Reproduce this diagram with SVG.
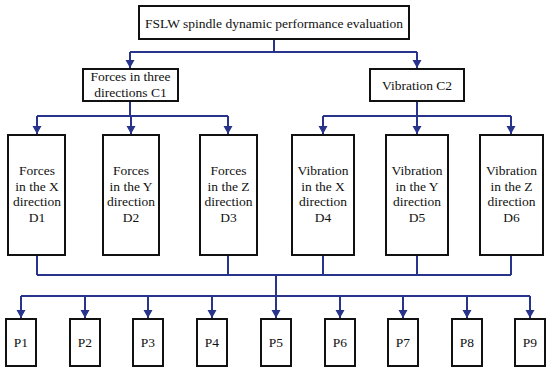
<svg xmlns="http://www.w3.org/2000/svg" width="550" height="369" viewBox="0 0 550 369">
<style>
.box{fill:#fff;stroke:#111;stroke-width:2}
.t{font-family:"Liberation Serif",serif;font-size:13.5px;fill:#111;text-anchor:middle}
.c{fill:none;stroke:#28348c;stroke-width:2}
</style>
<defs>
<marker id="ah" markerUnits="userSpaceOnUse" markerWidth="10" markerHeight="10" refX="8" refY="4.5" orient="auto">
<path d="M0,0 L8,4.5 L0,9 Z" fill="#28348c"/>
</marker>
</defs>
<rect width="550" height="369" fill="#fff"/>
<g id="connectors">
<path class="c" d="M274,39 V52 M130,52 H417"/>
<path class="c" d="M130,52 V68" marker-end="url(#ah)"/>
<path class="c" d="M417,52 V68" marker-end="url(#ah)"/>
<path class="c" d="M130,101 V116 M37,116 H228 M417,101 V116 M323,116 H511"/>
<path class="c" d="M37,116 V134" marker-end="url(#ah)"/>
<path class="c" d="M131,116 V134" marker-end="url(#ah)"/>
<path class="c" d="M228,116 V134" marker-end="url(#ah)"/>
<path class="c" d="M323,116 V134" marker-end="url(#ah)"/>
<path class="c" d="M417,116 V134" marker-end="url(#ah)"/>
<path class="c" d="M511,116 V134" marker-end="url(#ah)"/>
<path class="c" d="M37,255 V275 M228,255 V275 M323,255 V275 M417,255 V275 M511,255 V275 M37,275 H511 M276,275 V296 M21,296 H530"/>
<path class="c" d="M21,296 V318" marker-end="url(#ah)"/>
<path class="c" d="M85,296 V318" marker-end="url(#ah)"/>
<path class="c" d="M148,296 V318" marker-end="url(#ah)"/>
<path class="c" d="M212,296 V318" marker-end="url(#ah)"/>
<path class="c" d="M276,296 V318" marker-end="url(#ah)"/>
<path class="c" d="M340,296 V318" marker-end="url(#ah)"/>
<path class="c" d="M403,296 V318" marker-end="url(#ah)"/>
<path class="c" d="M467,296 V318" marker-end="url(#ah)"/>
<path class="c" d="M530,296 V318" marker-end="url(#ah)"/>
</g>
<g id="A"><rect class="box" x="139" y="6" width="270" height="33"/><text class="t" x="274" y="28">FSLW spindle dynamic performance evaluation</text></g>
<g id="C1"><rect class="box" x="83" y="69" width="95" height="32"/><text class="t" x="130.5" y="81">Forces in three</text><text class="t" x="130.5" y="97">directions C1</text></g>
<g id="C2"><rect class="box" x="370" y="69" width="94" height="32"/><text class="t" x="417" y="90">Vibration C2</text></g>
<g id="D1"><rect class="box" x="8" y="135" width="57" height="120"/><text class="t" x="37"><tspan x="37" y="175">Forces</tspan><tspan x="37" y="191">in the X</tspan><tspan x="37" y="206">direction</tspan><tspan x="37" y="222">D1</tspan></text></g>
<g id="D2"><rect class="box" x="103" y="135" width="56" height="120"/><text class="t"><tspan x="131" y="175">Forces</tspan><tspan x="131" y="191">in the Y</tspan><tspan x="131" y="206">direction</tspan><tspan x="131" y="222">D2</tspan></text></g>
<g id="D3"><rect class="box" x="200" y="135" width="57" height="120"/><text class="t"><tspan x="228.5" y="175">Forces</tspan><tspan x="228.5" y="191">in the Z</tspan><tspan x="228.5" y="206">direction</tspan><tspan x="228.5" y="222">D3</tspan></text></g>
<g id="D4"><rect class="box" x="292" y="135" width="62" height="120"/><text class="t"><tspan x="323" y="175">Vibration</tspan><tspan x="323" y="191">in the X</tspan><tspan x="323" y="206">direction</tspan><tspan x="323" y="222">D4</tspan></text></g>
<g id="D5"><rect class="box" x="386" y="135" width="62" height="120"/><text class="t"><tspan x="417" y="175">Vibration</tspan><tspan x="417" y="191">in the Y</tspan><tspan x="417" y="206">direction</tspan><tspan x="417" y="222">D5</tspan></text></g>
<g id="D6"><rect class="box" x="480" y="135" width="63" height="120"/><text class="t"><tspan x="511.5" y="175">Vibration</tspan><tspan x="511.5" y="191">in the Z</tspan><tspan x="511.5" y="206">direction</tspan><tspan x="511.5" y="222">D6</tspan></text></g>
<g id="P1"><rect class="box" x="6" y="319" width="30" height="47"/><text class="t" x="21" y="347">P1</text></g>
<g id="P2"><rect class="box" x="70" y="319" width="30" height="47"/><text class="t" x="85" y="347">P2</text></g>
<g id="P3"><rect class="box" x="133" y="319" width="30" height="47"/><text class="t" x="148" y="347">P3</text></g>
<g id="P4"><rect class="box" x="197" y="319" width="30" height="47"/><text class="t" x="212" y="347">P4</text></g>
<g id="P5"><rect class="box" x="261" y="319" width="30" height="47"/><text class="t" x="276" y="347">P5</text></g>
<g id="P6"><rect class="box" x="325" y="319" width="30" height="47"/><text class="t" x="340" y="347">P6</text></g>
<g id="P7"><rect class="box" x="388" y="319" width="30" height="47"/><text class="t" x="403" y="347">P7</text></g>
<g id="P8"><rect class="box" x="452" y="319" width="30" height="47"/><text class="t" x="467" y="347">P8</text></g>
<g id="P9"><rect class="box" x="515" y="319" width="30" height="47"/><text class="t" x="530" y="347">P9</text></g>
</svg>
